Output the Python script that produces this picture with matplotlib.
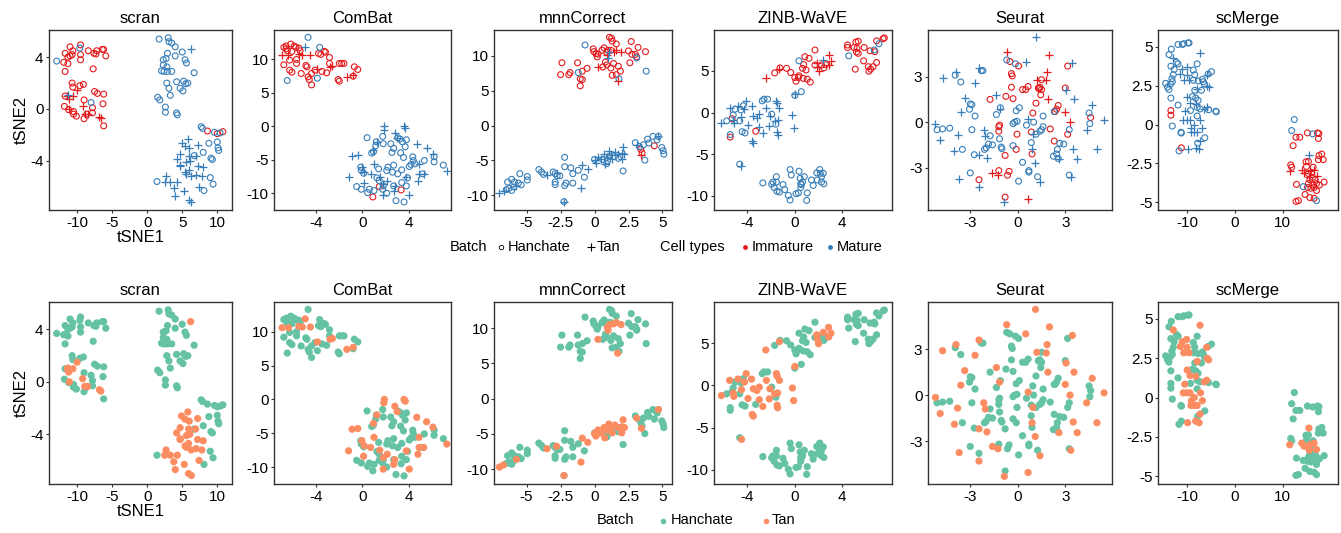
import numpy as np
import matplotlib.pyplot as plt
from matplotlib.lines import Line2D
from matplotlib.ticker import FuncFormatter

plt.rcParams['font.family'] = ['Liberation Sans', 'DejaVu Sans']
plt.rcParams['axes.unicode_minus'] = False

# tSNE coordinates, grouped by batch (Hanchate / Tan) and cell type (Immature / Mature)
# HI = Hanchate Immature, TI = Tan Immature, HM = Hanchate Mature, TM = Tan Mature

SCRAN_HI = [(-11.0, 4.8), (-11.7, 4.3), (-11.9, 3.6), (-11.7, 2.9), (-11.3, 4.0), (-11.0, 4.1), (-10.7, 4.2),
            (-11.3, 3.5), (-10.6, 4.5), (-9.5, 4.95), (-9.5, 4.2), (-9.5, 3.8), (-8.4, 4.5), (-7.6, 4.3),
            (-7.2, 4.5), (-7.3, 4.25), (-6.4, 4.6), (-6.2, 4.6), (-5.9, 4.1), (-7.7, 3.1),
            (-10.7, 2.0), (-10.6, 1.7), (-9.6, 1.8), (-9.1, 1.9), (-11.7, 1.0), (-11.8, 0.2), (-11.2, -0.05),
            (-10.5, -0.2), (-10.1, -0.55), (-10.5, -0.4), (-9.0, 0.7), (-8.6, -0.4), (-9.0, -0.75),
            (-7.8, 0.1), (-7.8, -0.3), (-7.5, 1.35), (-7.1, 1.2), (-6.2, 1.15), (-6.3, 0.4), (-6.2, -1.3),
            (8.6, -1.7), (10.0, -1.9), (10.8, -1.75)]
SCRAN_TI = [(-11.4, 1.0), (-11.2, 0.75), (-10.0, 1.5), (-10.6, 1.0), (-11.1, 0.0), (-9.2, 0.25),
            (-8.9, -0.35), (-8.5, -0.35), (-6.8, -0.6), (-6.6, -0.7)]
SCRAN_HM = [(-12.9, 3.7), (-9.6, 4.7), (-8.0, 0.5),
            (1.7, 5.4), (3.0, 5.5), (3.1, 5.2), (3.5, 5.1), (4.0, 4.8), (5.0, 4.4), (2.9, 4.3), (2.3, 3.8),
            (2.7, 3.9), (4.0, 4.1), (5.4, 3.8), (5.6, 3.55), (2.3, 3.4), (2.8, 3.25), (2.05, 2.95), (2.4, 2.9),
            (2.9, 2.9), (3.5, 2.9), (6.7, 2.8), (2.8, 2.0), (4.2, 2.1), (5.2, 2.15), (5.8, 2.0), (5.5, 1.95),
            (3.1, 1.6), (4.7, 1.6), (5.1, 1.4), (1.5, 0.9), (1.8, 0.7), (3.3, 1.05), (2.6, 0.15), (2.6, -0.25),
            (4.2, -0.3), (4.3, -0.45),
            (7.7, -1.37), (7.9, -1.5), (9.6, -1.8), (10.4, -1.85), (8.8, -2.65), (10.0, -2.55), (10.1, -3.0),
            (10.2, -3.2), (9.1, -3.8), (9.3, -3.9), (1.4, -5.6), (9.0, -5.3), (9.4, -5.8), (8.1, -6.3),
            (6.7, -3.6), (8.0, -3.35)]
SCRAN_TM = [(6.2, 4.6), (-11.3, 1.05),
            (5.8, -2.3), (4.9, -2.6), (5.4, -2.85), (6.0, -3.0), (7.2, -2.8), (4.7, -3.5), (4.2, -3.9),
            (5.9, -3.6), (6.9, -3.6), (4.7, -4.35), (5.6, -4.1), (6.1, -4.0), (7.2, -4.4), (8.0, -4.5),
            (5.6, -5.0), (6.3, -5.2), (7.0, -5.1), (7.8, -5.2), (2.7, -5.2), (2.5, -5.6), (3.3, -5.6),
            (4.3, -5.6), (3.8, -6.1), (5.3, -6.3), (4.0, -6.7), (5.9, -7.0), (6.3, -7.15), (7.4, -6.0),
            (5.9, -4.7), (5.4, -4.9), (4.7, -4.4)]

COMBAT_HI = [(-6.8, 11.8), (-6.6, 11.6), (-6.6, 12.0), (-6.2, 12.3), (-5.9, 12.0), (-5.75, 11.8), (-5.5, 11.7),
             (-5.4, 11.3), (-6.5, 11.3), (-6.1, 11.2), (-6.3, 9.9), (-5.7, 10.0), (-6.8, 9.2), (-5.7, 9.4),
             (-4.9, 9.1), (-4.8, 8.9), (-3.8, 10.9), (-3.6, 10.75), (-3.3, 11.2), (-3.2, 11.1), (-2.85, 10.3),
             (-2.85, 9.4), (-4.1, 8.4), (-3.5, 8.2), (-3.1, 8.0), (-6.3, 8.4), (-6.1, 8.1), (-5.3, 7.9),
             (-4.7, 7.4), (-4.6, 7.0), (-4.4, 7.9), (-4.4, 6.2), (-2.0, 9.4), (-1.8, 9.4), (-1.6, 9.4),
             (-2.1, 7.0), (-2.0, 6.75), (-0.7, 8.9), (-0.4, 8.5), (-0.8, 7.5),
             (1.45, -9.0), (3.35, -9.5), (0.9, -10.55)]
COMBAT_TI = [(-6.95, 10.6), (-6.4, 10.6), (-5.5, 10.8), (-5.2, 10.7), (-4.5, 10.7), (-2.8, 8.9), (-2.6, 9.0),
             (-3.9, 8.5), (-1.35, 7.4), (-0.8, 7.7)]
COMBAT_HM = [(-4.7, 13.3), (-3.7, 11.8), (-3.9, 7.2), (-6.5, 6.85),
             (0.4, -1.7), (1.75, -1.5), (1.2, -2.3), (1.15, -2.9), (0.95, -3.8), (0.8, -4.0), (1.8, -2.6),
             (2.45, -2.6), (3.05, -1.7), (3.25, -1.9), (3.45, -2.3), (3.8, -2.0), (3.7, -3.05), (2.7, -3.3),
             (2.55, -3.9), (3.3, -3.95), (3.55, -4.65), (4.35, -4.55), (4.4, -5.1), (4.55, -5.6), (4.2, -5.7),
             (4.05, -6.0), (6.2, -4.55), (6.2, -5.3), (7.0, -5.8), (5.35, -5.1), (5.2, -7.1), (3.9, -7.7),
             (3.4, -6.5), (2.7, -5.8), (2.2, -6.1), (2.6, -6.85), (3.05, -7.1), (2.1, -6.6), (1.4, -6.35),
             (-0.15, -6.1), (-0.1, -6.6), (0.1, -7.0), (1.25, -7.7), (1.45, -8.1), (1.8, -8.9), (2.7, -8.9),
             (-0.5, -9.0), (-0.1, -9.4), (0.6, -9.4), (0.45, -9.9), (1.0, -9.6), (1.75, -9.4), (2.1, -10.0),
             (2.9, -11.1), (3.6, -11.3), (3.4, -8.4), (3.8, -8.9)]
COMBAT_TM = [(-4.95, 11.9),
             (1.9, 0.0), (1.85, -0.5), (3.6, 0.0), (3.7, -0.25), (2.8, -1.0), (3.0, -1.8), (1.25, -2.3),
             (4.7, -2.65), (5.55, -3.3), (6.1, -4.1), (-0.9, -4.4), (-0.4, -4.3), (1.0, -5.6), (-0.05, -6.1),
             (0.15, -6.85), (0.7, -7.1), (1.5, -7.5), (-1.2, -7.6), (2.15, -8.1), (0.1, -8.4), (1.8, -8.6),
             (2.8, -8.9), (3.8, -7.6), (4.9, -7.1), (5.3, -7.1), (4.8, -8.1), (4.05, -10.3), (1.8, -10.3),
             (2.7, -9.6), (7.3, -6.6), (4.9, -5.6), (0.95, -3.55)]

MNN_HI = [(-2.4, 9.0), (-2.5, 7.3), (-1.9, 7.3), (-1.8, 7.6), (-1.25, 9.0), (-1.05, 6.7), (-0.9, 6.6),
          (-1.05, 5.7), (-0.9, 7.8), (-0.55, 8.2), (-0.1, 11.0), (-0.05, 10.6), (0.1, 10.3), (0.2, 9.85),
          (0.25, 10.25), (0.55, 10.8), (0.7, 11.15), (0.9, 10.5), (1.0, 10.8), (1.1, 12.65), (1.25, 12.5),
          (1.3, 12.1), (1.6, 11.7), (1.2, 10.8), (0.6, 8.4), (0.8, 9.1), (0.9, 8.7), (1.2, 8.25), (1.4, 8.9),
          (1.75, 8.5), (1.3, 7.2), (1.6, 7.3), (1.9, 7.8), (2.7, 12.05), (2.5, 10.7), (2.75, 10.2),
          (3.0, 10.2), (3.1, 9.85), (2.6, 9.0), (3.2, 11.2), (3.75, 10.6),
          (3.4, -3.4), (3.5, -3.9), (4.4, -2.9)]
MNN_TI = [(1.6, 10.8), (0.95, 10.1), (1.4, 10.6), (1.95, 10.5), (0.25, 8.4), (1.7, 6.45), (3.45, -4.2)]
MNN_HM = [(-1.2, 7.6), (-0.7, 11.55), (1.8, 6.7), (3.8, 7.8), (3.1, 9.7),
          (-6.4, -8.1), (-6.1, -7.7), (-6.3, -9.0), (-6.1, -9.3), (-5.95, -8.8), (-5.9, -8.1), (-5.6, -8.25),
          (-5.5, -6.9), (-5.4, -8.5), (-6.5, -9.2), (-4.95, -7.3), (-4.95, -7.8), (-4.1, -6.3), (-3.9, -6.65),
          (-3.75, -7.0), (-3.05, -6.65), (-2.9, -6.9), (-2.75, -7.2), (-2.9, -8.1), (-2.9, -8.45),
          (-2.55, -7.2), (-2.2, -5.9), (-2.2, -4.55), (-2.1, -8.25), (-2.2, -8.6), (-1.75, -6.05),
          (-1.6, -6.9), (-1.6, -8.25), (-1.2, -6.4), (-0.75, -7.4), (-2.25, -10.9), (0.0, -4.85),
          (0.6, -4.85), (0.95, -5.05), (1.45, -4.45), (1.75, -4.7), (2.1, -6.5), (0.9, -5.45), (1.1, -4.4),
          (3.0, -2.45), (3.3, -3.0), (3.7, -4.95), (3.6, -2.75), (3.9, -1.95), (4.3, -1.55), (4.6, -2.05),
          (4.7, -1.55), (4.95, -3.15), (5.05, -3.6), (5.1, -4.1), (4.0, -2.5)]
MNN_TM = [(-7.0, -9.7), (-6.7, -9.4), (-5.75, -8.6), (-3.5, -7.1), (-2.8, -6.75), (-0.9, -5.6), (-1.0, -9.0),
          (-2.25, -10.9), (-0.5, -6.2), (0.25, -4.45), (0.45, -4.85), (0.7, -4.1), (0.9, -4.45), (1.05, -3.6),
          (1.2, -4.2), (1.3, -4.85), (1.5, -3.75), (1.75, -4.1), (2.1, -3.0), (2.0, -4.0), (2.2, -4.1),
          (2.0, -4.85), (0.75, -5.55), (0.0, -4.95), (0.1, -5.3), (3.1, -2.75), (4.7, -1.55),
          (1.0, 9.7), (1.1, 10.5)]

ZINB_HI = [(-1.7, 4.75), (-1.25, 5.35), (-0.7, 5.3), (-0.35, 4.8), (0.1, 3.75), (0.0, 4.2), (0.3, 4.2),
           (0.35, 4.4), (0.7, 4.1), (1.05, 4.0), (1.3, 3.65), (0.95, 5.1), (0.65, 5.3), (0.75, 5.75),
           (0.85, 6.7), (1.2, 6.5), (1.7, 7.5), (1.7, 5.7), (2.25, 5.7), (2.45, 5.35), (2.6, 5.75),
           (4.45, 8.1), (4.45, 7.8), (5.0, 7.8), (5.15, 8.45), (5.35, 8.55), (5.25, 7.7), (5.2, 7.25),
           (5.35, 7.1), (5.85, 7.8), (6.35, 7.4), (6.75, 7.3), (6.9, 8.6), (7.45, 8.85), (7.55, 8.95),
           (5.8, 6.2), (5.1, 5.2), (6.2, 5.5), (6.25, 4.95), (6.4, 5.2), (6.6, 5.5), (6.9, 6.0),
           (-5.3, -0.75), (-5.45, -2.95), (-3.3, -2.25)]
ZINB_TI = [(-2.45, 4.2), (-1.3, 5.2), (1.85, 6.0), (1.9, 5.5), (2.0, 4.95), (2.85, 6.9), (2.85, 5.75),
           (3.05, 6.2)]
ZINB_HM = [(0.35, 6.2), (4.55, 6.8), (7.1, 8.25), (6.7, 7.5),
           (-5.75, -1.0), (-5.05, 0.4), (-5.2, -0.3), (-5.45, -2.65), (-4.55, 0.3), (-4.65, -1.0),
           (-4.45, -2.3), (-4.2, -2.45), (-4.35, 0.8), (-2.75, 1.4), (-2.6, 1.6), (-2.3, 1.6), (-1.95, -0.2),
           (-1.6, -1.4), (0.0, 2.05), (0.55, 2.5), (-4.65, -6.2),
           (-1.95, -8.6), (-1.85, -8.35), (-1.55, -7.7), (-1.55, -8.35), (-1.75, -9.0), (-1.5, -9.45),
           (-1.3, -9.55), (-1.0, -8.65), (-0.85, -9.25), (-0.4, -6.85), (-0.3, -7.5), (-0.55, -9.95),
           (-0.4, -10.5), (0.1, -9.75), (0.3, -9.65), (0.35, -7.05), (0.45, -7.9), (0.5, -8.55),
           (0.55, -8.65), (0.5, -9.0), (0.65, -8.35), (0.8, -7.7), (1.05, -9.65), (1.0, -10.55), (1.4, -8.1),
           (1.55, -8.75), (1.85, -7.25), (1.9, -8.1), (2.1, -6.85), (2.15, -7.3), (2.25, -7.7), (2.25, -8.35),
           (2.4, -7.3), (2.45, -8.55), (-2.7, -8.45)]
ZINB_TM = [(-6.2, -1.2), (-5.5, 0.6), (-5.2, -0.9), (-5.15, -1.3), (-4.8, 0.75), (-4.5, -0.5), (-4.25, 0.4),
           (-4.1, 1.4), (-3.95, -1.55), (-3.65, 0.75), (-3.5, -0.4), (-3.6, -3.45), (-3.5, -3.65),
           (-3.2, -0.6), (-3.0, -0.2), (-3.0, -1.7), (-2.4, 0.6), (-2.7, -2.5), (-2.1, -0.4), (-2.15, -1.6),
           (-1.55, 1.4), (-1.5, 1.1), (-1.3, 0.6), (-1.7, -1.0), (-1.45, -0.9), (-1.5, -2.35), (-1.45, -2.65),
           (0.0, 2.25), (-0.2, -0.3), (-0.1, -1.8), (2.4, 6.3), (-4.5, -6.4)]

SEURAT_HI = [(-0.5, 4.0), (0.05, 3.7), (3.15, 3.7), (-0.4, 3.2), (-0.35, 3.05), (-0.4, 2.3), (1.5, 2.8),
             (0.65, 2.35), (0.3, 2.15), (0.5, 2.15), (1.3, 2.25), (1.35, 2.2), (1.4, 2.3), (1.5, 2.15),
             (3.0, 2.25), (1.45, 1.8), (-0.75, 1.7), (-0.3, 1.55), (-1.75, 1.5), (1.15, 1.25), (2.55, 1.1),
             (2.45, 0.85), (2.35, 0.7), (4.6, 0.3), (0.95, 0.6), (2.05, -0.45), (3.15, -0.8), (-1.15, -0.2),
             (-1.2, -0.3), (-1.2, -0.6), (-0.05, -0.8), (0.85, -0.65), (-0.1, -1.8), (-0.8, -2.2),
             (0.9, -2.1), (2.3, -1.25), (-1.2, -3.2), (-2.45, -3.8), (-0.55, -3.25), (-0.65, -3.5),
             (-0.8, -4.95)]
SEURAT_TI = [(-0.7, 4.6), (2.0, 4.45), (1.85, 3.3), (1.2, 2.8), (1.8, 2.75), (1.9, 1.5), (3.0, 0.7),
             (3.3, 0.0), (-1.6, -3.35), (-1.25, -3.5), (0.65, -5.05)]
SEURAT_HM = [(-0.7, 4.1), (-0.15, 3.85), (-2.3, 3.4), (-2.2, 3.4), (-3.95, 3.1), (-3.6, 2.65), (-3.0, 1.2),
             (-2.9, 1.15), (-3.05, 0.85), (-2.7, 0.4), (-1.35, 0.5), (-1.1, 0.95), (2.3, 0.7), (4.5, 0.6),
             (4.55, -0.1), (0.1, 0.95), (-0.1, 0.75), (-0.2, 0.0), (-0.3, -0.1), (-0.05, 0.05), (0.55, -0.2),
             (1.0, 0.0), (1.6, 0.4), (1.6, -0.3), (1.5, -0.5), (3.25, -0.5), (1.15, -0.8), (1.4, -0.6),
             (-5.1, -0.5), (-4.75, -0.45), (-4.3, -0.4), (-2.9, -0.5), (-1.75, -0.9), (-1.15, -1.1),
             (-1.85, -1.45), (-1.6, -1.5), (-1.05, -1.65), (-1.0, -1.75), (-2.0, -1.7), (-2.1, -1.8),
             (-0.3, -1.55), (0.85, -1.35), (2.65, -1.4), (2.5, -1.8), (2.9, -1.45), (2.45, -2.1), (2.25, -2.25),
             (2.55, -2.4), (-3.5, -1.8), (-2.75, -2.15), (0.3, -2.65), (0.7, -3.2), (0.7, -3.3), (-3.0, -3.35),
             (0.05, -3.9), (1.25, -3.6), (3.25, -3.5)]
SEURAT_TM = [(1.12, 5.6), (0.5, 4.0), (3.45, 3.9), (-2.45, 3.6), (-3.9, 3.3), (-4.75, 2.9), (-2.7, 2.6),
             (3.05, 2.1), (-1.35, 1.8), (-3.35, 1.6), (-3.6, 0.65), (-1.15, 0.85), (3.55, 1.5), (4.7, 1.1),
             (4.35, -0.5), (5.45, 0.15), (0.65, 0.2), (0.95, -0.8), (-5.2, -0.15), (-3.8, -0.85), (-4.9, -1.2),
             (-2.15, -0.5), (-2.05, -0.9), (0.9, -1.8), (3.5, -1.75), (3.75, -2.45), (5.0, -1.8), (-4.0, -1.9),
             (-2.45, -2.2), (-1.95, -2.4), (1.1, -2.7), (2.6, -2.45), (-3.7, -3.75), (1.4, -3.95), (3.35, -3.6),
             (-2.45, -4.3), (-0.85, -5.3)]

SCMERGE_HI = [(-13.4, 0.9), (-13.4, 0.6), (-11.2, -1.5),
              (12.8, -0.82), (13.6, -0.82), (12.2, -1.36), (15.2, -0.54), (17.3, -0.54), (17.6, -0.58),
              (17.5, -0.9), (17.6, -2.0), (18.2, -1.9), (17.5, -2.26), (18.5, -2.26), (11.7, -2.6),
              (11.9, -2.75), (14.9, -2.4), (15.4, -2.38), (15.0, -2.7), (16.4, -2.75), (15.4, -3.15),
              (16.1, -3.1), (16.3, -3.4), (16.8, -3.55), (15.7, -3.55), (15.4, -3.8), (16.3, -3.9), (17.1, -3.8),
              (18.7, -3.7), (17.7, -3.9), (12.9, -3.85), (15.2, -4.05), (16.6, -4.05), (15.9, -4.1),
              (17.1, -4.25), (14.7, -4.5), (15.7, -4.7), (16.6, -4.75), (12.8, -4.95), (13.3, -4.9)]
SCMERGE_TI = [(11.5, -3.0), (16.6, -2.9), (15.7, -3.0), (14.0, -2.9), (14.5, -3.1), (15.6, -3.35), (17.1, -3.3)]
SCMERGE_HM = [(-11.9, 5.15), (-11.0, 5.15), (-10.7, 5.2), (-9.8, 5.25), (-9.6, 5.25), (-13.3, 4.85),
              (-13.8, 4.5), (-12.2, 4.0), (-11.9, 3.9), (-13.4, 3.75), (-12.7, 3.55), (-7.9, 3.9), (-8.7, 3.5),
              (-8.4, 3.2), (-5.6, 3.25), (-4.9, 3.4), (-12.9, 3.2), (-13.2, 2.95), (-13.1, 2.75), (-13.5, 2.6),
              (-14.5, 2.65), (-14.1, 2.4), (-13.8, 2.25), (-8.7, 2.85), (-7.7, 2.8), (-6.8, 2.9), (-6.6, 2.75),
              (-6.4, 2.6), (-8.4, 2.2), (-7.0, 2.2), (-13.4, 1.7), (-8.9, 1.8), (-8.2, 1.7), (-7.7, 1.55),
              (-7.9, 1.1), (-7.3, 1.0), (-5.5, 0.95), (-11.9, 1.25), (-9.3, 0.9), (-4.0, 0.85), (-3.9, 0.82),
              (-7.9, 0.55), (-13.1, -0.1), (-11.3, -0.5), (-11.2, -0.55), (-6.3, -0.85), (-7.8, -1.2),
              (-11.7, -1.7),
              (12.45, 0.32), (11.9, -0.39), (16.3, -0.6), (14.3, -4.0), (17.1, -4.9)]
SCMERGE_TM = [(-7.3, 4.6), (-12.9, 4.3), (-10.1, 3.7), (-11.0, 3.55), (-11.4, 3.25), (-10.0, 3.2), (-5.9, 3.2),
              (-10.7, 2.85), (-9.6, 2.85), (-5.8, 2.5), (-5.5, 2.4), (-7.9, 2.3), (-10.0, 1.75), (-9.4, 1.4),
              (-8.2, 1.35), (-6.4, 1.0), (-5.9, 1.1), (-10.5, 0.85), (-10.8, 0.3), (-10.0, 0.3), (-9.4, 0.3),
              (-7.2, 0.3), (-8.5, 0.0), (-6.8, -0.2), (-9.2, -0.5), (-8.5, -0.5), (-7.9, -0.5), (-9.1, -0.2),
              (-7.3, -1.05), (-9.9, -1.6), (-8.2, -1.5), (-7.5, -1.6), (15.5, -1.94)]

methods = ['scran', 'ComBat', 'mnnCorrect', 'ZINB-WaVE', 'Seurat', 'scMerge']
groups = [(SCRAN_HI, SCRAN_TI, SCRAN_HM, SCRAN_TM),
          (COMBAT_HI, COMBAT_TI, COMBAT_HM, COMBAT_TM),
          (MNN_HI, MNN_TI, MNN_HM, MNN_TM),
          (ZINB_HI, ZINB_TI, ZINB_HM, ZINB_TM),
          (SEURAT_HI, SEURAT_TI, SEURAT_HM, SEURAT_TM),
          (SCMERGE_HI, SCMERGE_TI, SCMERGE_HM, SCMERGE_TM)]
xlims = [(-14, 12.1), (-7.65, 7.66), (-7.4, 5.7), (-6.82, 8.2), (-5.67, 5.95), (-16.1, 21.6)]
ylims = [(-7.8, 6.1), (-12.5, 14.4), (-12.1, 13.7), (-11.7, 9.9), (-5.8, 6.08), (-5.5, 6.08)]
xticks = [[-10, -5, 0, 5, 10], [-4, 0, 4], [-5, -2.5, 0, 2.5, 5], [-4, 0, 4], [-3, 0, 3], [-10, 0, 10]]
yticks = [[-4, 0, 4], [-10, -5, 0, 5, 10], [-10, -5, 0, 5, 10], [-10, -5, 0, 5], [-3, 0, 3],
          [-5, -2.5, 0, 2.5, 5]]

RED = '#E41A1C'
BLUE = '#377EB8'
GREEN = '#66C2A5'
ORANGE = '#FC8D62'

W, H = 1341, 533
fig = plt.figure(figsize=(W / 100, H / 100), dpi=100)

# panel edges in pixels
lefts = [49, 274, 494, 714, 928, 1158]
rights = [232, 451, 672, 892, 1112, 1338]
rows = [(30, 210), (302, 484)]


def xy(pts):
    a = np.array(pts)
    return a[:, 0], a[:, 1]


def style_axes(ax, i, title):
    ax.set_xlim(xlims[i])
    ax.set_ylim(ylims[i])
    ax.set_xticks(xticks[i])
    ax.set_yticks(yticks[i])
    fmt = FuncFormatter(lambda v, p: '%g' % v)
    ax.xaxis.set_major_formatter(fmt)
    ax.yaxis.set_major_formatter(fmt)
    ax.tick_params(length=2.5, width=0.8, color='#333333', labelsize=11, pad=1.5, labelcolor='black')
    for s in ax.spines.values():
        s.set_color('#333333')
        s.set_linewidth(1.0)
    ax.set_title(title, fontsize=12, pad=5)
    if i == 0:
        ax.set_xlabel('tSNE1', fontsize=12, labelpad=0)
        ax.set_ylabel('tSNE2', fontsize=12, labelpad=1)


for i, name in enumerate(methods):
    hi, ti, hm, tm = groups[i]

    # top row: marker = batch, colour = cell type
    top, bot = rows[0]
    ax = fig.add_axes([lefts[i] / W, 1 - bot / H, (rights[i] - lefts[i]) / W, (bot - top) / H])
    for pts, col in [(hi, RED), (hm, BLUE)]:
        x, y = xy(pts)
        ax.scatter(x, y, s=18, marker='o', facecolors='none', edgecolors=col, linewidths=0.8)
    for pts, col in [(ti, RED), (tm, BLUE)]:
        x, y = xy(pts)
        ax.scatter(x, y, s=36, marker='+', c=col, linewidths=0.9)
    style_axes(ax, i, name)

    # bottom row: colour = batch
    top, bot = rows[1]
    ax = fig.add_axes([lefts[i] / W, 1 - bot / H, (rights[i] - lefts[i]) / W, (bot - top) / H])
    x, y = xy(hi + hm)
    ax.scatter(x, y, s=27, color=GREEN, edgecolors='none')
    x, y = xy(ti + tm)
    ax.scatter(x, y, s=27, color=ORANGE, edgecolors='none')
    style_axes(ax, i, name)


# legends
def legend_mark(px, py, **kw):
    fig.add_artist(Line2D([px / W], [1 - py / H], linestyle='none', transform=fig.transFigure, **kw))


def legend_text(px, py, s):
    fig.text(px / W, 1 - py / H, s, fontsize=10.5, va='center', ha='left')


ly = 247
legend_text(450, ly, 'Batch')
legend_mark(500.5, ly, marker='o', ms=3.2, mfc='none', mec='black', mew=0.6)
legend_text(508, ly, 'Hanchate')
legend_mark(591, ly, marker='+', ms=6, mec='black', mew=0.8)
legend_text(597, ly, 'Tan')
legend_text(660, ly, 'Cell types')
legend_mark(745, ly, marker='o', ms=3.5, mfc=RED, mec='none')
legend_text(752, ly, 'Immature')
legend_mark(830, ly, marker='o', ms=3.5, mfc=BLUE, mec='none')
legend_text(837, ly, 'Mature')

ly = 520.5
legend_text(597, ly, 'Batch')
legend_mark(662.5, ly, marker='o', ms=4, mfc=GREEN, mec='none')
legend_text(671, ly, 'Hanchate')
legend_mark(765.5, ly, marker='o', ms=4, mfc=ORANGE, mec='none')
legend_text(772, ly, 'Tan')

fig.savefig('out.png', dpi=100)
